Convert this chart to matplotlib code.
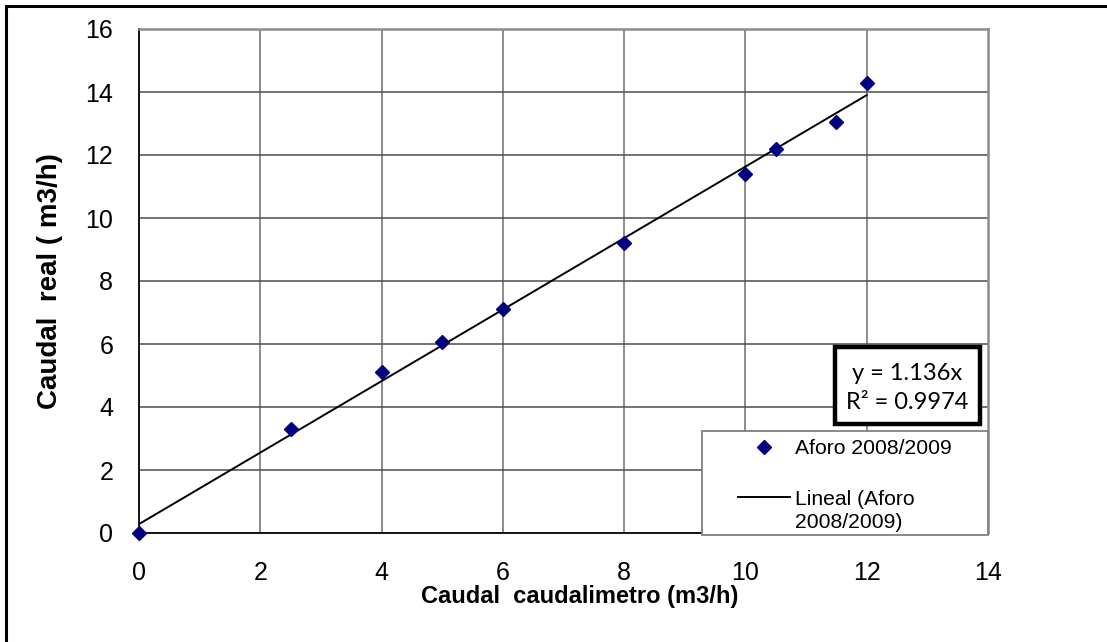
import numpy as np
import matplotlib
matplotlib.use("Agg")
import matplotlib.pyplot as plt
from matplotlib.patches import Rectangle

# ---- data ----
x_caudalimetro = [0, 2.5, 4, 5, 6, 8, 10, 10.5, 11.5, 12]
y_real = [0, 3.3, 5.1, 6.05, 7.1, 9.2, 11.4, 12.2, 13.05, 14.3]
series_label = "Aforo 2008/2009"
trend_label_l1 = "Lineal (Aforo"
trend_label_l2 = "2008/2009)"
eq_lines = ["y = 1.136x", "R\u00b2 = 0.9974"]
xticks = [0, 2, 4, 6, 8, 10, 12, 14]
yticks = [0, 2, 4, 6, 8, 10, 12, 14, 16]

plt.rcParams['font.family'] = ['Liberation Sans', 'DejaVu Sans']

W, H = 1107, 642
fig = plt.figure(figsize=(W / 100, H / 100), dpi=100)

def fx(px):
    return px / W

def fy(py):
    return 1 - py / H

# outer chart frame (cropped right/bottom)
fig.patches.append(Rectangle((fx(6), -0.1), 1.2, fy(6) + 0.1, transform=fig.transFigure,
                             fill=False, edgecolor='black', lw=2.2))

ax = fig.add_axes([fx(139), fy(533), fx(988) - fx(139), fy(29) - fy(533)])
ax.set_xlim(0, 14)
ax.set_ylim(0, 16)
ax.set_xticks(xticks)
ax.set_yticks(yticks)
ax.tick_params(length=0, labelsize=18)
ax.tick_params(axis='y', pad=18.5)
ax.tick_params(axis='x', pad=20)

for v in xticks[1:-1]:
    ax.axvline(v, color='#8c8c8c', lw=1.4, zorder=0)
for v in yticks[1:-1]:
    ax.axhline(v, color='#4d4d4d', lw=1.1, zorder=0)

ax.spines['left'].set_color('black')
ax.spines['left'].set_linewidth(1.3)
ax.spines['bottom'].set_color('black')
ax.spines['bottom'].set_linewidth(1.3)
ax.spines['top'].set_color('#8c8c8c')
ax.spines['top'].set_linewidth(1.8)
ax.spines['right'].set_color('#8c8c8c')
ax.spines['right'].set_linewidth(1.8)

xs = np.array(x_caudalimetro)
ys = np.array(y_real)
m, b = np.polyfit(xs, ys, 1)
xl = np.array([xs.min(), xs.max()])
ln, = ax.plot(xl, m * xl + b, color='black', lw=1.4, zorder=3)
sc, = ax.plot(xs, ys, linestyle='none', marker='D', color='#000080', ms=7.5,
              zorder=4, clip_on=False)

ax.set_xlabel("Caudal  caudalimetro (m3/h)", fontsize=17, fontweight='bold')
ax.xaxis.set_label_coords((580 - 139) / (988 - 139), -(596 - 533) / (533 - 29))
ax.xaxis.label.set_va('center')
ax.set_ylabel("Caudal  real ( m3/h)", fontsize=20, fontweight='bold')
ax.yaxis.set_label_coords(-(139 - 50) / (988 - 139), 0.5)
ax.yaxis.label.set_va('center')

# equation box
fig.patches.append(Rectangle((fx(835), fy(424)), fx(980) - fx(835), fy(347) - fy(424),
                             transform=fig.transFigure, facecolor='white', edgecolor='black',
                             lw=3.2, zorder=5))
fig.text(fx(907), fy(388), "\n".join(eq_lines), ha='center', va='center', fontsize=17,
         family=['Lato', 'DejaVu Sans'], linespacing=1.42, zorder=6)

# legend
fig.patches.append(Rectangle((fx(702), fy(535)), fx(988) - fx(702), fy(431) - fy(535),
                             transform=fig.transFigure, facecolor='white', edgecolor='#808080',
                             lw=1.3, zorder=5))
leg = fig.legend([sc, ln], [series_label, trend_label_l1], loc='upper left',
                 bbox_to_anchor=(fx(738), fy(439)), frameon=False, fontsize=15.2,
                 handlelength=2.46, handletextpad=0.24, labelspacing=1.5,
                 borderpad=0, borderaxespad=0, numpoints=1)
leg.set_zorder(7)
fig.text(fx(795), fy(523), trend_label_l2, ha='left', va='center', fontsize=15.2, zorder=7)

fig.savefig("out.png", dpi=100)
